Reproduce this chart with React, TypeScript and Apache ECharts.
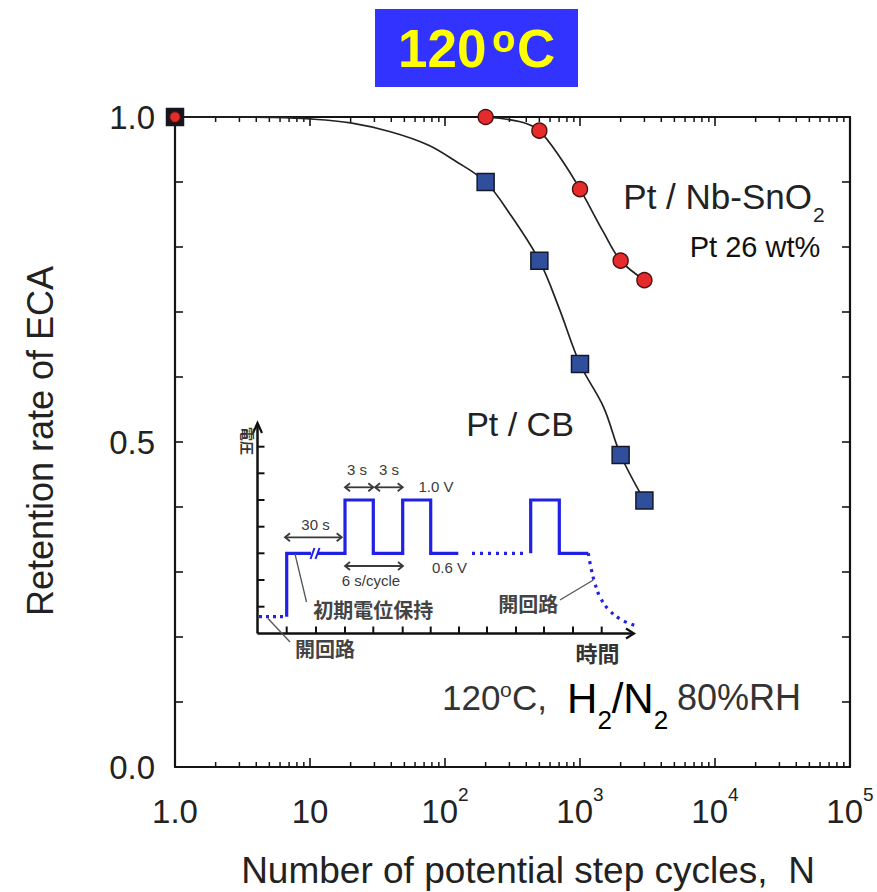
import React, { useEffect, useRef } from 'react';
import * as echarts from 'echarts';

// ---------------- data ----------------
const ptCbCycles = [1, 200, 500, 1000, 2000, 3000];
const ptCbRetention = [1.0, 0.9, 0.779, 0.62, 0.48, 0.41];
const ptNbCycles = [1, 200, 500, 1000, 2000, 3000];
const ptNbRetention = [1.0, 1.0, 0.979, 0.889, 0.779, 0.749];

const ptCbFitCycles = [1, 3, 5, 10, 20, 40, 75, 120, 200, 300, 500, 700, 1000, 1500, 2000, 3000];
const ptCbFitRetention = [1.0, 1.0, 0.9995, 0.997, 0.991, 0.977, 0.957, 0.932, 0.9, 0.852, 0.779, 0.706, 0.62, 0.553, 0.48, 0.41];
const ptNbFitCycles = [200, 300, 400, 500, 700, 1000, 1500, 2000, 3000];
const ptNbFitRetention = [1.0, 0.996, 0.99, 0.979, 0.94, 0.889, 0.822, 0.779, 0.749];

const xTickLabels = ['1.0', '10', '10^2', '10^3', '10^4', '10^5'];
const xMinorTickValues = [
  2, 3, 4, 5, 6, 7, 8, 9,
  20, 30, 40, 50, 60, 70, 80, 90,
  200, 300, 400, 500, 600, 700, 800, 900,
  2000, 3000, 4000, 5000, 6000, 7000, 8000, 9000,
  20000, 30000, 40000, 50000, 60000, 70000, 80000, 90000,
];
const yTickValues = [0, 0.5, 1.0];
const yTickLabels = ['0.0', '0.5', '1.0'];

// ---------------- styling ----------------
const LAT = '"Liberation Sans", Arial, Helvetica, sans-serif';
const CJK = '"Noto Sans CJK JP", "Noto Sans CJK SC", sans-serif';
const AXIS = '#141414';
const BLUE = '#2020e6';
const INK = '#3a3a3a';

function txt(x: number, y: number, text: string, opts: any = {}) {
  return {
    type: 'text',
    x,
    y,
    rotation: opts.rotation || 0,
    style: {
      text,
      fill: opts.fill || '#222',
      fontSize: opts.fontSize || 14,
      fontWeight: opts.fontWeight || 'normal',
      fontFamily: opts.fontFamily || LAT,
      align: opts.align || 'center',
      verticalAlign: 'middle',
    },
    z: 20,
  };
}

function seg(x1: number, y1: number, x2: number, y2: number, stroke: string, lineWidth: number, dash?: number[]) {
  return {
    type: 'line',
    shape: { x1, y1, x2, y2 },
    style: { stroke, lineWidth, lineDash: dash || null, lineCap: 'butt' },
    z: 20,
  };
}

function poly(points: number[][], stroke: string, lineWidth: number, dash?: number[], smooth?: number) {
  return {
    type: 'polyline',
    shape: { points, smooth: smooth || 0 },
    style: { stroke, lineWidth, fill: 'none', lineDash: dash || null, lineJoin: 'miter' },
    z: 20,
  };
}

function dblArrow(x1: number, x2: number, y: number) {
  const h = 5;
  return [
    seg(x1, y, x2, y, INK, 1.8),
    poly([[x1 + h, y - 4], [x1, y], [x1 + h, y + 4]], INK, 1.8),
    poly([[x2 - h, y - 4], [x2, y], [x2 - h, y + 4]], INK, 1.8),
  ];
}

function buildInset(): any[] {
  const els: any[] = [];
  const ax0 = 257.5;
  const ay0 = 633.5;
  // axes
  els.push(seg(ax0, ay0, ax0, 424, '#111', 2.5));
  els.push(poly([[253, 433], [ax0, 423], [262, 433]], '#111', 2.2));
  els.push(seg(ax0, ay0, 633, ay0, '#111', 2.5));
  els.push(poly([[626, 628.5], [634, ay0], [626, 638.5]], '#111', 2.2));
  const vTicks = [446.7, 473.3, 500, 526.7, 553.3, 580, 606.7];
  vTicks.forEach((y) => els.push(seg(ax0, y, ax0 + 7, y, '#111', 2)));
  const hTicks = [286.7, 316, 345, 373.3, 402.7, 430.7, 459, 487, 516, 544, 573, 601.7];
  hTicks.forEach((x) => els.push(seg(x, ay0, x, ay0 - 7, '#111', 2)));

  // waveform
  const y0 = 616.7;
  const yL = 553.3;
  const yH = 500;
  els.push(seg(259, y0, 284, y0, BLUE, 3.2, [3, 4]));
  els.push(poly([[286.7, y0], [286.7, yL], [311, yL]], BLUE, 3.2));
  els.push(seg(310.5, 559, 314.5, 548, BLUE, 2));
  els.push(seg(315.5, 559, 319.5, 548, BLUE, 2));
  els.push(
    poly(
      [
        [318, yL], [345, yL], [345, yH], [373.3, yH], [373.3, yL], [402.7, yL],
        [402.7, yH], [430.7, yH], [430.7, yL], [458.3, yL],
      ],
      BLUE,
      3.2
    )
  );
  els.push(seg(472, yL, 528, yL, BLUE, 3.2, [3, 5]));
  els.push(poly([[530.7, yL], [530.7, yH], [559.3, yH], [559.3, yL], [588.3, yL]], BLUE, 3.2));
  els.push(
    poly(
      [[588.3, yL], [591, 568], [594.5, 582], [600, 597], [609, 610], [621, 619.5], [636, 626]],
      BLUE,
      3.2,
      [3, 5],
      0.4
    )
  );

  // annotation arrows
  els.push(...dblArrow(285, 341.7, 537.3));
  els.push(...dblArrow(345, 373.3, 487.3));
  els.push(...dblArrow(375, 402.7, 487.3));
  els.push(...dblArrow(345, 403, 566));

  // leader lines
  els.push(seg(295, 554, 306.5, 602, '#555', 1.3));
  els.push(seg(268, 618.5, 290, 642, '#555', 1.3));
  els.push(seg(560, 600, 593.3, 580, '#555', 1.3));

  // labels
  els.push(txt(357, 469.5, '3 s', { fontSize: 15, fill: INK }));
  els.push(txt(389, 469.5, '3 s', { fontSize: 15, fill: INK }));
  els.push(txt(436, 486.7, '1.0 V', { fontSize: 15, fill: INK }));
  els.push(txt(315.5, 524, '30 s', { fontSize: 15, fill: INK }));
  els.push(txt(371, 580.5, '6 s/cycle', { fontSize: 15, fill: INK }));
  els.push(txt(449.5, 567, '0.6 V', { fontSize: 15, fill: INK }));
  els.push(txt(373.3, 609, '初期電位保持', { fontSize: 20, fill: '#444', fontFamily: CJK, fontWeight: 'bold' }));
  els.push(txt(325, 648, '開回路', { fontSize: 20, fill: '#444', fontFamily: CJK, fontWeight: 'bold' }));
  els.push(txt(528.3, 603, '開回路', { fontSize: 20, fill: '#444', fontFamily: CJK, fontWeight: 'bold' }));
  els.push(txt(597.5, 652, '時間', { fontSize: 22, fill: '#333', fontFamily: CJK, fontWeight: 'bold' }));
  els.push(txt(247.5, 441, '電圧', { fontSize: 14, fill: '#333', fontFamily: CJK, fontWeight: 'bold', rotation: -Math.PI / 2 }));
  return els;
}

function buildGraphics(): any[] {
  const els: any[] = [];
  // title box
  els.push({ type: 'rect', shape: { x: 375, y: 9, width: 203, height: 78 }, style: { fill: '#3333ff' }, z: 20 });
  els.push(txt(398, 48.5, '120', { fontSize: 53, fontWeight: 'bold', fill: '#ffff00', align: 'left' }));
  els.push(txt(492, 39.3, 'o', { fontSize: 38, fontWeight: 'bold', fill: '#ffff00', align: 'left' }));
  els.push(txt(517, 48.5, 'C', { fontSize: 53, fontWeight: 'bold', fill: '#ffff00', align: 'left' }));

  // axis titles
  els.push(txt(40, 441, 'Retention rate of ECA', { fontSize: 36, fill: '#222', rotation: Math.PI / 2 }));
  els.push(txt(528, 870, 'Number of potential step cycles,  N', { fontSize: 37, fill: '#222' }));

  // series annotations
  els.push(txt(812, 196, 'Pt / Nb-SnO', { fontSize: 35, fill: '#222', align: 'right' }));
  els.push(txt(813, 214, '2', { fontSize: 21, fill: '#222', align: 'left' }));
  els.push(txt(755, 246.5, 'Pt 26 wt%', { fontSize: 29, fill: '#111' }));
  els.push(txt(520, 423.5, 'Pt / CB', { fontSize: 34, fill: '#222' }));

  // condition label
  els.push(txt(442, 697.7, '120', { fontSize: 35, fill: '#333', align: 'left' }));
  els.push(txt(500, 689.5, 'o', { fontSize: 21, fill: '#333', align: 'left' }));
  els.push(txt(512, 697.7, 'C,', { fontSize: 35, fill: '#333', align: 'left' }));
  els.push(txt(567, 698.6, 'H', { fontSize: 42, fill: '#000', align: 'left' }));
  els.push(txt(597.5, 719.9, '2', { fontSize: 26, fill: '#000', align: 'left' }));
  els.push(txt(611.7, 698.6, '/N', { fontSize: 42, fill: '#000', align: 'left' }));
  els.push(txt(653.7, 719.9, '2', { fontSize: 26, fill: '#000', align: 'left' }));
  els.push(txt(677, 697.7, '80%RH', { fontSize: 36, fill: '#333', align: 'left' }));

  els.push(...buildInset());
  return els;
}

function xLabelFormatter(value: number): string {
  const idx = Math.round(Math.log10(value));
  const lab = xTickLabels[idx];
  if (lab === undefined) return '';
  const parts = lab.split('^');
  if (parts.length === 2) return `{b|${parts[0]}}{s|${parts[1]}}`;
  return `{b|${lab}}`;
}

function yLabelFormatter(value: number): string {
  for (let i = 0; i < yTickValues.length; i++) {
    if (Math.abs(value - yTickValues[i]) < 1e-6) return yTickLabels[i];
  }
  return '';
}

function buildOption(): any {
  const axisLine = { show: true, onZero: false, lineStyle: { color: AXIS, width: 2.2 } };
  const xTick = { show: true, inside: true, length: 9, lineStyle: { color: AXIS, width: 1.6 } };
  const yTick = { show: true, inside: true, length: 8, lineStyle: { color: AXIS, width: 1.6 } };
  const minorTickSeries = {
    type: 'custom',
    xAxisIndex: 0,
    yAxisIndex: 0,
    silent: true,
    clip: false,
    z: 4,
    data: xMinorTickValues.map((v) => [v, 0]),
    renderItem: (params: any, api: any) => {
      const v = api.value(0);
      const b = api.coord([v, 0]);
      const t = api.coord([v, 1]);
      const st = { stroke: AXIS, lineWidth: 1.5 };
      return {
        type: 'group',
        children: [
          { type: 'line', shape: { x1: b[0], y1: b[1], x2: b[0], y2: b[1] - 5 }, style: st },
          { type: 'line', shape: { x1: t[0], y1: t[1], x2: t[0], y2: t[1] + 5 }, style: st },
        ],
      };
    },
  };

  return {
    animation: false,
    backgroundColor: '#ffffff',
    grid: { left: 175, right: 27, top: 117, bottom: 125, containLabel: false },
    xAxis: [
      {
        type: 'log',
        logBase: 10,
        min: 1,
        max: 100000,
        splitNumber: 5,
        position: 'bottom',
        axisLine,
        axisTick: xTick,
        splitLine: { show: false },
        axisLabel: {
          show: true,
          margin: 18,
          formatter: xLabelFormatter,
          rich: {
            b: { fontSize: 33, fontFamily: LAT, color: '#222', lineHeight: 53, verticalAlign: 'middle' },
            s: { fontSize: 19, fontFamily: LAT, color: '#222', lineHeight: 19, verticalAlign: 'top' },
          },
        },
      },
      {
        type: 'log',
        logBase: 10,
        min: 1,
        max: 100000,
        splitNumber: 5,
        position: 'top',
        axisLine,
        axisTick: xTick,
        splitLine: { show: false },
        axisLabel: { show: false },
      },
    ],
    yAxis: [
      {
        type: 'value',
        min: 0,
        max: 1,
        interval: 0.1,
        position: 'left',
        axisLine,
        axisTick: yTick,
        splitLine: { show: false },
        axisLabel: {
          show: true,
          margin: 20,
          formatter: yLabelFormatter,
          fontSize: 33,
          fontFamily: LAT,
          color: '#222',
          lineHeight: 33,
          padding: [0, 0, 10, 0],
        },
      },
      {
        type: 'value',
        min: 0,
        max: 1,
        interval: 0.1,
        position: 'right',
        axisLine,
        axisTick: yTick,
        splitLine: { show: false },
        axisLabel: { show: false },
      },
    ],
    series: [
      minorTickSeries,
      {
        name: 'Pt / CB fit',
        type: 'line',
        data: ptCbFitCycles.map((n, i) => [n, ptCbFitRetention[i]]),
        showSymbol: false,
        smooth: 0.35,
        clip: false,
        lineStyle: { color: '#222', width: 1.7 },
        z: 5,
      },
      {
        name: 'Pt / Nb-SnO2 fit',
        type: 'line',
        data: ptNbFitCycles.map((n, i) => [n, ptNbFitRetention[i]]),
        showSymbol: false,
        smooth: 0.35,
        clip: false,
        lineStyle: { color: '#222', width: 1.7 },
        z: 5,
      },
      {
        name: 'Pt / CB',
        type: 'scatter',
        symbol: 'rect',
        symbolSize: 17,
        clip: false,
        data: ptCbCycles.map((n, i) =>
          i === 0 ? { value: [n, ptCbRetention[i]], itemStyle: { color: '#161616' } } : [n, ptCbRetention[i]]
        ),
        itemStyle: { color: '#2f4e9c', borderColor: '#15182a', borderWidth: 1.5, opacity: 1 },
        z: 6,
      },
      {
        name: 'Pt / Nb-SnO2',
        type: 'scatter',
        symbol: 'circle',
        symbolSize: 15,
        clip: false,
        data: ptNbCycles.map((n, i) =>
          i === 0 ? { value: [n, ptNbRetention[i]], symbolSize: 11 } : [n, ptNbRetention[i]]
        ),
        itemStyle: { color: '#e52b2b', borderColor: '#4a1212', borderWidth: 1.4, opacity: 1 },
        z: 7,
      },
    ],
    graphic: { elements: buildGraphics() },
  };
}

export default function App() {
  const ref = useRef<HTMLDivElement>(null);
  useEffect(() => {
    if (!ref.current) return;
    const chart = echarts.init(ref.current, undefined, { renderer: 'svg' });
    chart.setOption(buildOption());
    return () => chart.dispose();
  }, []);
  return (
    <div
      ref={ref}
      style={{ position: 'absolute', left: 0, top: 0, width: 877, height: 892, background: '#fff' }}
    />
  );
}
